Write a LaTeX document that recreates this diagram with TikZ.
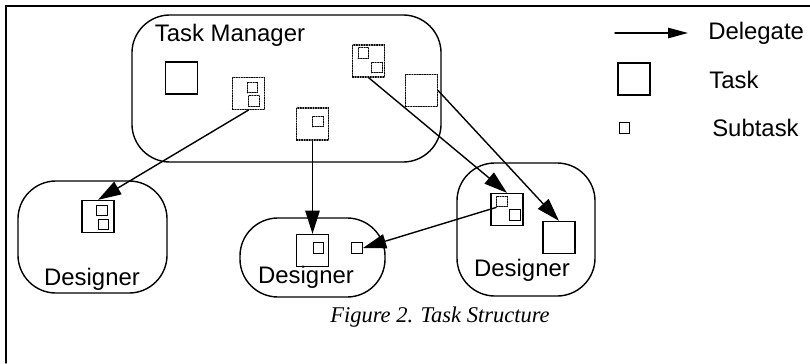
\documentclass[tikz,border=0pt]{standalone}
\usepackage{fontspec}
\setmainfont{Liberation Sans}
\newfontfamily\capfont{Liberation Serif}
\usetikzlibrary{arrows.meta}

\begin{document}
\begin{tikzpicture}[x=0.025cm, y=-0.025cm, line cap=round,
    task/.style={draw, line width=0.9pt, minimum size=0.8cm, inner sep=0pt},
    dtask/.style={task, line width=0.8pt, densely dotted},
    sub/.style={draw, line width=0.8pt, minimum size=0.27cm, inner sep=0pt},
    dsub/.style={sub, densely dotted},
    agent/.style={draw, line width=1pt, rounded corners=0.95cm, inner sep=0pt},
    lbl/.style={font=\fontsize{17}{19}\selectfont, inner sep=0pt},
    deleg/.style={line width=1pt, -{Triangle[length=0.58cm, width=0.36cm]}}]

  \useasboundingbox (0,0) rectangle (810,363);

  % ---- frame: only its top and left edges show ------------------------------
  \draw[line width=1pt] (6,363) -- (6,6) -- (810,6);

  % ---- task manager with its own and its handed-out tasks -------------------
  \node[agent, minimum width=7.725cm, minimum height=3.675cm] (tm) at (286.5,88.5) {};
  \node[lbl] (tm-name) at (230,35) {Task Manager};
  \node[task] (t0) at (181.5,78) {};
  \node[dtask] (ta) at (248.5,93.5) {};
  \node[dsub] (ta1) at (252.5,87.5) {};
  \node[dsub] (ta2) at (254,101) {};
  \node[dtask] (tb) at (312.5,124) {};
  \node[dsub] (tb1) at (318,121.5) {};
  \node[dtask] (tc) at (368.5,61) {};
  \node[dsub] (tc1) at (363.5,53) {};
  \node[dsub] (tc2) at (377,67.5) {};
  \node[dtask] (td) at (421.5,90.5) {};

  % ---- the three designers --------------------------------------------------
  \foreach \n/\x/\y/\w/\h/\tx/\ty in {d1/92.5/237/3.725/2.8/92/279,
                                      d2/312.5/257.5/3.625/1.975/306/277.5,
                                      d3/526/229.5/3.45/3.325/522/270.5}{
    \node[agent, minimum width=\w cm, minimum height=\h cm] (\n) at (\x,\y) {};
    \node[lbl] (\n-name) at (\tx,\ty) {Designer};}

  % first designer
  \node[task] (t1) at (98,216.5) {};
  \node[sub] (t1a) at (102,210.5) {};
  \node[sub] (t1b) at (103.5,224.5) {};
  % second designer
  \node[task] (t2) at (312.5,250.5) {};
  \node[sub] (t2a) at (318.5,248) {};
  \node[sub] (s2) at (357,248) {};
  % third designer
  \node[task] (t3) at (507,209.5) {};
  \node[dsub] (t3a) at (502,201.5) {};
  \node[sub] (t3b) at (515,215) {};
  \node[task] (t4) at (559,237.5) {};

  % ---- delegation arrows ----------------------------------------------------
  \draw[deleg] (ta.south) -- (t1.north);
  \draw[deleg] (tb.south) -- (t2.north);
  \draw[deleg] (tc.south) -- (t3.north);
  \draw[deleg] (td.east) -- (t4.north);
  \draw[deleg] (t3a.south west) -- (s2.east);

  % ---- legend ---------------------------------------------------------------
  \coordinate (lg-a) at (615,33);
  \coordinate (lg-b) at (688,33);
  \draw[line width=1pt, -{Triangle[length=0.5cm, width=0.26cm]}] (lg-a) -- (lg-b);
  \node[task] (lg-task) at (634,79) {};
  \node[sub] (lg-sub) at (624.5,128) {};
  \foreach \n/\x/\y/\t in {lg-t1/708/33/Delegate, lg-t2/709/80/Task, lg-t3/712/128/Subtask}{
    \node[lbl, anchor=west] (\n) at (\x,\y) {\t};}

  % ---- caption --------------------------------------------------------------
  \node[font=\capfont\itshape\fontsize{16}{18}\selectfont] (cap) at (440,317)
    {Figure 2. Task Structure};
\end{tikzpicture}
\end{document}
